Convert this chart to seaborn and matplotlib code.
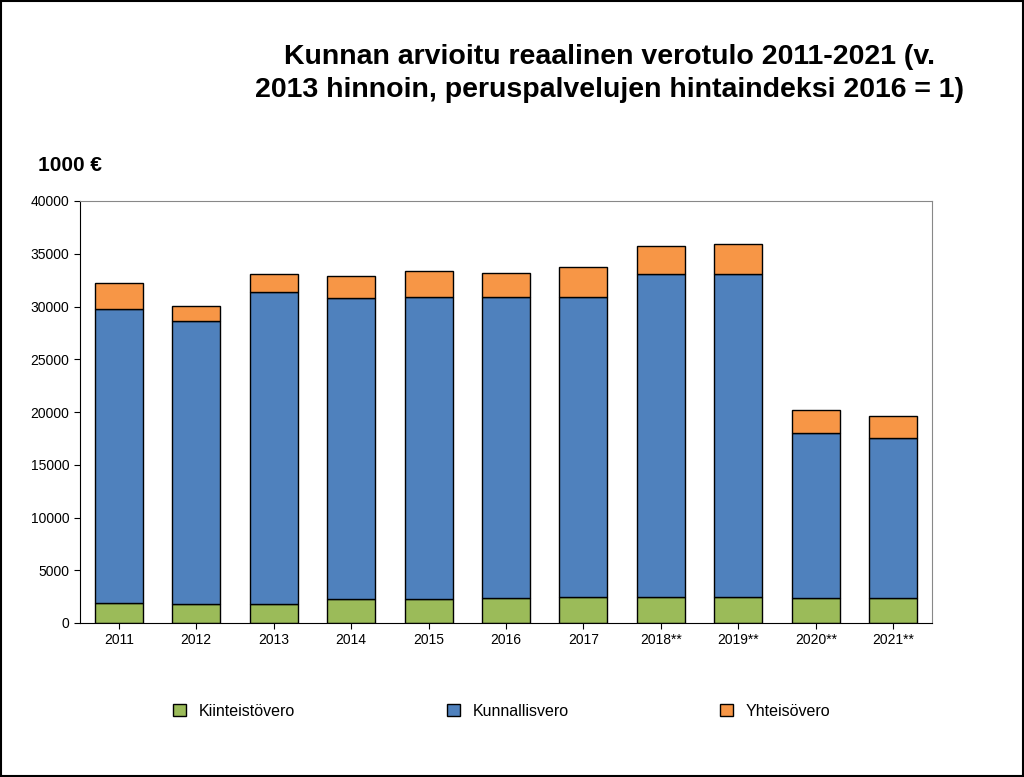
import matplotlib
matplotlib.use("Agg")
import matplotlib.pyplot as plt
import seaborn as sns
import pandas as pd
import numpy as np

years = ["2011","2012","2013","2014","2015","2016","2017","2018**","2019**","2020**","2021**"]
kiinteisto = [1900,1800,1800,2270,2270,2370,2460,2460,2460,2370,2370]
kunnallis = [27860,26800,29570,28530,28630,28530,28440,30620,30620,15630,15170]
yhteiso = [2470,1450,1710,2100,2460,2280,2840,2650,2840,2190,2080]

sns.set_style("white")
plt.rcParams["font.family"] = "Liberation Sans"
plt.rcParams["text.color"] = "black"
fig = plt.figure(figsize=(10.24,7.77), dpi=100)
ax = fig.add_axes([80/1024, 1-623/777, 852/1024, 422/777])
x = np.arange(len(years))
k = np.array(kiinteisto); ku = np.array(kunnallis); y = np.array(yhteiso)
cols = ["#9BBB59","#4F81BD","#F79646"]
names = ["Kiinteistövero","Kunnallisvero","Yhteisövero"]
bottom = np.zeros(len(years))
for vals, c, n in zip([k,ku,y], cols, names):
    ax.bar(x, vals, bottom=bottom, width=0.62, color=c, edgecolor="black", linewidth=1, label=n)
    bottom += vals
ax.set_xlim(-0.5, len(years)-0.5)
ax.set_ylim(0, 40000)
ax.set_yticks(range(0, 40001, 5000))
ax.set_xticks(x)
ax.set_xticklabels(years, fontsize=10)
ax.tick_params(axis="both", labelsize=10, direction="out", length=4, left=True, bottom=True, colors="black")
for s in ["top","right"]:
    ax.spines[s].set_color("#888888")
for s in ["left","bottom"]:
    ax.spines[s].set_color("black")
fig.text(0.595, 0.905, "Kunnan arvioitu reaalinen verotulo 2011-2021 (v.\n2013 hinnoin, peruspalvelujen hintaindeksi 2016 = 1)",
         ha="center", va="center", fontsize=20.5, fontweight="bold", linespacing=1.35)
fig.text(0.037, 0.787, "1000 €", fontsize=15, fontweight="bold", va="center")
handles, labels = ax.get_legend_handles_labels()
fig.legend(handles, labels, loc="center", bbox_to_anchor=(0.49, 1-711/777), ncol=3, frameon=False,
           fontsize=11.5, columnspacing=9.5, handlelength=0.8, handleheight=0.8)
fig.patches.append(plt.Rectangle((0.001,0.001),0.998,0.998, transform=fig.transFigure, fill=False, edgecolor="black", linewidth=1.5))
fig.savefig("out.png", dpi=100)
